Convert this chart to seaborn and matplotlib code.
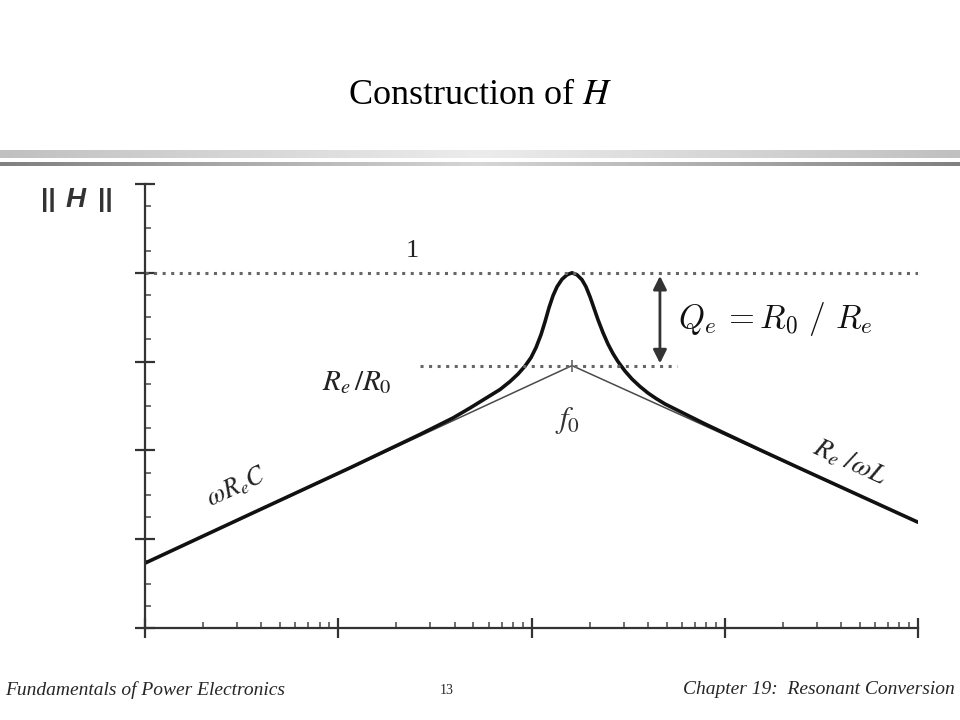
import numpy as np
import pandas as pd
import seaborn as sns
import matplotlib.pyplot as plt
from matplotlib.colors import LinearSegmentedColormap
from matplotlib.ticker import LogLocator, MultipleLocator, NullFormatter

# ||H||: frequency on a 4-decade log axis, magnitude in dB
freq = [1.0, 3.494, 11.50, 26.49, 39.26, 48.07, 58.86, 68.71, 77.40, 85.13,
        92.56, 99.41, 105.5, 112.0, 117.5, 123.2, 129.2, 135.5, 143.8, 152.7,
        162.0, 172.0, 182.5, 191.4, 200.8, 210.6, 220.8, 234.4, 248.9, 264.1,
        280.3, 304.6, 331.2, 364.4, 400.7, 440.9, 490.8, 566.2, 661.1, 790.4,
        1003.0, 1522.0, 2451.0, 5011.0, 10000.0]
mag_db = [-65.39, -54.38, -43.93, -36.40, -32.69, -30.45, -28.09, -26.29, -24.49, -22.81,
          -21.01, -19.10, -16.85, -13.93, -11.01, -7.86, -5.17, -3.15, -1.46, -0.45,
          0.0, -0.45, -1.57, -3.15, -5.39, -7.98, -10.56, -13.48, -16.07, -18.20,
          -20.00, -22.13, -23.93, -25.62, -27.08, -28.31, -29.55, -30.90, -32.36, -34.04,
          -36.18, -39.88, -44.04, -50.22, -56.18]

# asymptotes wReC and Re/wL meeting at f0
asym_freq = [1.0, 162.0, 10000.0]
asym_db = [-65.4, -20.9, -56.2]

f0 = 162.0
ratio_db = -20.9  # Re/R0

sns.set_style("ticks")
plt.rcParams["font.family"] = ["Liberation Serif", "DejaVu Serif"]
plt.rcParams["mathtext.fontset"] = "stix"

fig = plt.figure(figsize=(9.6, 7.2), dpi=100)
ax = fig.add_axes([145 / 960, 92 / 720, 773 / 960, 444 / 720])

curve_df = pd.DataFrame({"f": freq, "dB": mag_db})
asym_df = pd.DataFrame({"f": asym_freq, "dB": asym_db})

sns.lineplot(data=asym_df, x="f", y="dB", ax=ax, color="#4a4a4a", lw=1.1,
             sort=False, estimator=None)
sns.lineplot(data=curve_df, x="f", y="dB", ax=ax, color="#111111", lw=2.6,
             sort=False, estimator=None)

ax.set_xscale("log")
ax.set_xlim(1, 1e4)
ax.set_ylim(-80, 20)

# dotted reference levels
dots = (0, (1, 1.8))
ax.axhline(0, color="#666666", lw=2.2, ls=dots)
ax.plot([26.5, 566], [ratio_db, ratio_db], color="#666666", lw=2.2, ls=dots)
ax.plot([f0], [ratio_db], marker="|", ms=9, mew=1.2, color="#666666")

# Qe double arrow
ax.annotate("", xy=(462, -0.7), xytext=(462, -20.4),
            arrowprops=dict(arrowstyle="<|-|>", color="#333333", lw=2,
                            mutation_scale=20, shrinkA=0, shrinkB=0))

ax.xaxis.set_major_locator(LogLocator(base=10, numticks=10))
ax.xaxis.set_minor_locator(LogLocator(base=10, subs=np.arange(2, 10), numticks=10))
ax.xaxis.set_minor_formatter(NullFormatter())
ax.yaxis.set_major_locator(MultipleLocator(20))
ax.yaxis.set_minor_locator(MultipleLocator(5))
ax.tick_params(which="major", direction="inout", length=14, width=1.6,
               color="#333333", labelbottom=False, labelleft=False)
ax.tick_params(which="minor", direction="in", length=4, width=1.2, color="#555555")
for side in ["left", "bottom"]:
    ax.spines[side].set_color("#333333")
    ax.spines[side].set_linewidth(1.6)
sns.despine(ax=ax)
ax.set_xlabel("")
ax.set_ylabel("")

# labels on the plot
ax.text(24.1, 4.8, "1", fontsize=19, ha="center", va="center", color="#222222")
ax.text(12.5, -24.7, r"$R_e\,/R_0$", fontsize=21, ha="center", va="center", color="#222222")
ax.text(154, -33.3, r"$f_0$", fontsize=22, ha="center", va="center", color="#333333")
ax.text(2.99, -48.3, r"$\omega R_e C$", fontsize=19, ha="center", va="center",
        rotation=25, rotation_mode="anchor", color="#222222")
ax.text(4449, -42.6, r"$R_e\ /\omega L$", fontsize=20, ha="center", va="center",
        rotation=-24.4, rotation_mode="anchor", color="#222222")
ax.text(573, -10.3, r"$Q_e\, = R_0\ /\ R_e$", fontsize=24, ha="left", va="center",
        math_fontfamily="cm", color="#111111")

# y axis name at top left
fig.text(41 / 960, 1 - 200 / 720, "||", fontsize=19, fontweight="bold",
         family="Liberation Sans", ha="left", va="center", color="#333333")
fig.text(66 / 960, 1 - 200 / 720, "H", fontsize=20, fontweight="bold", style="italic",
         family="Liberation Sans", ha="left", va="center", color="#333333")
fig.text(98 / 960, 1 - 200 / 720, "||", fontsize=19, fontweight="bold",
         family="Liberation Sans", ha="left", va="center", color="#333333")

# slide title and rule
fig.text(0.5, 1 - 95 / 720, r"Construction of $\mathit{H}$", fontsize=26,
         ha="center", va="center", color="black")

grad = np.abs(np.linspace(-1, 1, 400))[None, :]
light = LinearSegmentedColormap.from_list("light", ["#ececec", "#c0c0c0"])
dark = LinearSegmentedColormap.from_list("dark", ["#d6d6d6", "#808080"])
for top, h, cm in [(150, 8, light), (162, 4, dark)]:
    band = fig.add_axes([0, 1 - (top + h) / 720, 1, h / 720])
    band.imshow(grad, aspect="auto", cmap=cm, vmin=0, vmax=1)
    band.axis("off")

# footer
fig.text(5 / 960, 1 - 690 / 720, "Fundamentals of Power Electronics", fontsize=14,
         style="italic", ha="left", va="center")
fig.text(447 / 960, 1 - 690 / 720, "13", fontsize=10, ha="center", va="center")
fig.text(955 / 960, 1 - 690 / 720, "Chapter 19:  Resonant Conversion", fontsize=14,
         style="italic", ha="right", va="center")

fig.savefig("out.png", dpi=100)
